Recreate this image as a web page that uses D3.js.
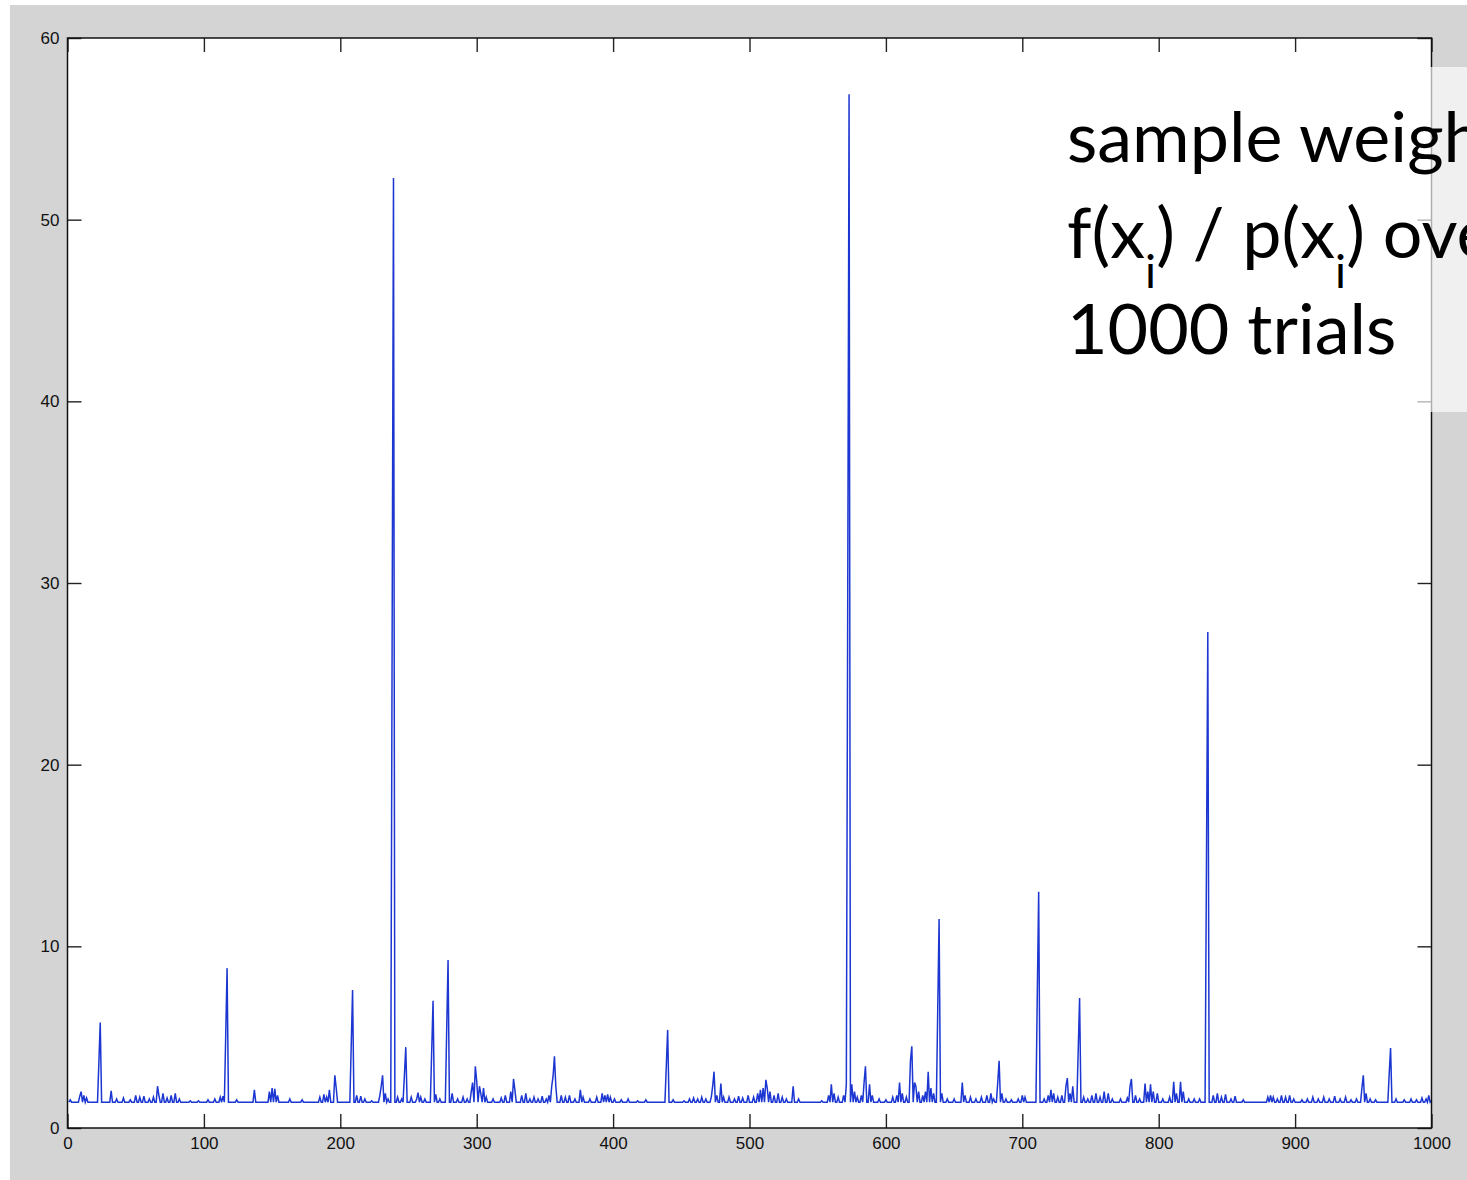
<!DOCTYPE html>
<html>
<head>
<meta charset="utf-8">
<script src="https://cdn.jsdelivr.net/npm/d3@7"></script>
<style>
    body { margin: 0; background: #fff; }
    .axis text { font-family: "Liberation Sans", Arial, sans-serif; font-size: 17px; fill: #111; }
    .axis line { stroke: #222; stroke-width: 1.4; }
    .note { font-family: Lato, "Open Sans", sans-serif; fill: #000; }
</style>
</head>
<body>
<svg id="chart"></svg>
<script>
// weights: everything not listed sits on the flat baseline
const numTrials = 1000;
const baseValue = 1.42;

const spikeIndex = [
    2, 9, 10, 12, 14, 23, 24, 32, 36, 41, 46, 50, 53, 56, 60, 63, 66, 67, 70, 73, 76, 79, 82, 90, 96, 103, 108, 112, 114, 116, 117,
    124, 137, 148, 150, 152, 154, 163, 172, 185, 188, 190, 192, 196, 197, 208, 209, 212, 215, 218, 223, 229, 230, 231, 233, 235, 238, 239,
    242, 245, 247, 248, 252, 256, 257, 259, 262, 267, 268, 270, 273, 278, 279, 282, 286, 290, 293, 296, 297, 299, 300, 302, 303, 305, 307, 312, 318, 321, 325, 327, 328,
    333, 336, 339, 342, 345, 348, 351, 353, 355, 356, 357, 358, 362, 365, 368, 372, 376, 378, 383, 388, 392, 394, 396, 398, 401, 406, 411, 418, 424, 439, 440,
    444, 452, 456, 459, 462, 465, 468, 472, 473, 474, 476, 479, 481, 485, 489, 492, 495, 499, 503, 506, 508, 510, 512, 513, 515, 518, 521, 524, 527, 532, 536, 553, 558, 560, 562, 565, 569, 571, 572, 573, 575, 577, 579,
    582, 584, 585, 588, 590, 595, 600, 605, 608, 610, 612, 615, 618, 619, 621, 622, 624, 627, 629, 631, 633, 635, 638, 639, 641, 645, 650, 656, 658, 662, 666, 670, 674, 677, 679, 682, 683, 685, 688, 692, 697, 700, 702,
    711, 712, 716, 719, 721, 723, 726, 729, 732, 733, 735, 737, 741, 742, 745, 748, 751, 754, 757, 760, 763, 766, 772, 777, 779, 780, 783, 786, 790, 792, 794, 796, 799, 803, 808, 811, 813, 816, 818, 822, 826, 830, 835, 836,
    840, 843, 846, 849, 853, 856, 862, 880, 882, 884, 887, 890, 893, 896, 899, 905, 909, 913, 917, 921, 925, 929, 933, 937, 941, 945, 949, 950, 952, 955, 959, 969, 970, 974, 980, 985, 989, 993, 996, 998, 1000
];
const spikeValue = [
    1.55, 1.75, 2.0, 1.8, 1.65, 3.6, 5.8, 2.05, 1.6, 1.65, 1.55, 1.8, 1.7, 1.75, 1.6, 1.7, 2.3, 1.8, 1.9, 1.65, 1.8, 1.9, 1.6, 1.5, 1.5, 1.55, 1.6, 1.7, 1.75, 5.1, 8.8,
    1.55, 2.1, 2.0, 2.2, 2.15, 1.8, 1.6, 1.55, 1.7, 1.85, 1.7, 2.1, 2.9, 2.2, 4.5, 7.6, 1.8, 1.75, 1.6, 1.5, 1.8, 2.3, 2.9, 1.9, 1.6, 27.0, 52.3,
    1.7, 1.6, 2.9, 4.45, 1.7, 1.6, 1.95, 1.7, 1.6, 4.2, 7.0, 1.85, 1.6, 5.4, 9.25, 1.9, 1.6, 1.7, 1.6, 2.0, 2.5, 3.4, 2.6, 2.3, 1.9, 2.2, 1.7, 1.6, 1.65, 1.8, 2.0, 2.7, 2.1,
    1.8, 1.9, 1.6, 1.7, 1.6, 1.75, 1.6, 1.8, 2.3, 2.85, 3.95, 2.3, 1.8, 1.7, 1.8, 1.6, 2.1, 1.7, 1.6, 1.7, 1.9, 1.8, 1.85, 1.7, 1.6, 1.55, 1.6, 1.5, 1.55, 3.4, 5.4,
    1.55, 1.5, 1.6, 1.65, 1.6, 1.7, 1.6, 1.7, 2.3, 3.1, 1.8, 2.45, 1.7, 1.7, 1.6, 1.75, 1.65, 1.8, 1.7, 1.9, 2.1, 2.2, 2.65, 2.2, 2.0, 1.8, 1.9, 1.7, 1.6, 2.3, 1.6, 1.5, 1.8, 2.4, 1.9, 1.7, 1.8, 2.4, 28.8, 56.9, 2.4, 2.0, 1.7,
    1.8, 2.5, 3.4, 2.4, 1.8, 1.6, 1.55, 1.7, 1.8, 2.5, 1.9, 1.7, 3.7, 4.5, 2.5, 2.3, 2.0, 1.8, 2.0, 3.1, 2.2, 1.9, 6.5, 11.5, 1.9, 1.6, 1.6, 2.5, 1.8, 1.7, 1.6, 1.7, 1.8, 1.9, 1.6, 2.5, 3.7, 1.9, 1.6, 1.55, 1.6, 1.8, 1.7,
    7.4, 13.0, 1.6, 1.8, 2.1, 1.9, 1.7, 1.8, 2.3, 2.75, 1.9, 2.3, 4.3, 7.15, 1.7, 1.6, 1.8, 1.9, 1.7, 2.0, 1.9, 1.6, 1.6, 1.65, 2.3, 2.7, 1.8, 1.6, 2.45, 2.0, 2.4, 2.0, 1.9, 1.6, 1.7, 2.55, 1.9, 2.55, 2.0, 1.6, 1.6, 1.6, 14.3, 27.3,
    1.8, 1.9, 1.7, 1.85, 1.6, 1.75, 1.55, 1.7, 1.8, 1.7, 1.6, 1.8, 1.7, 1.8, 1.6, 1.55, 1.6, 1.7, 1.6, 1.7, 1.6, 1.75, 1.6, 1.7, 1.55, 1.6, 2.2, 2.9, 1.9, 1.6, 1.55, 3.0, 4.4, 1.6, 1.55, 1.6, 1.55, 1.65, 1.6, 1.8, 1.5
];

const xTicks = [0, 100, 200, 300, 400, 500, 600, 700, 800, 900, 1000];
const yTicks = [0, 10, 20, 30, 40, 50, 60];

// the slide note over the plot, "i" parts are subscripts
const noteLines = [
    [{t: "sample weights"}],
    [{t: "f(x"}, {t: "i", sub: true}, {t: ") / p(x"}, {t: "i", sub: true}, {t: ") over"}],
    [{t: "1000 trials"}]
];

class WeightPlot {
    constructor(_config, _data){
        this.config = {
            parentElement: _config.parentElement,
            containerWidth: _config.containerWidth || 1467,
            containerHeight: _config.containerHeight || 1180,
            margin: {top: 38, right: 35.5, bottom: 52, left: 67.5}
        }
        this.data = _data;
        this.initVis();
    }

    initVis(){
        let vis = this;

        vis.width = vis.config.containerWidth - vis.config.margin.left - vis.config.margin.right;
        vis.height = vis.config.containerHeight - vis.config.margin.top - vis.config.margin.bottom;

        vis.svg = d3.select(vis.config.parentElement)
            .attr('width', vis.config.containerWidth)
            .attr('height', vis.config.containerHeight);

        // gray figure window
        vis.svg.append('rect')
            .attr('x', 10)
            .attr('y', 5)
            .attr('width', vis.config.containerWidth - 10)
            .attr('height', vis.config.containerHeight - 5)
            .attr('fill', '#d4d4d4');

        vis.chart = vis.svg.append('g')
            .attr('transform', `translate(${vis.config.margin.left}, ${vis.config.margin.top})`);

        vis.chart.append('rect')
            .attr('width', vis.width)
            .attr('height', vis.height)
            .attr('fill', '#fff');

        vis.xScale = d3.scaleLinear()
            .domain([0, numTrials])
            .range([0, vis.width]);

        vis.yScale = d3.scaleLinear()
            .domain([0, 60])
            .range([vis.height, 0]);

        vis.updateVis();
    }

    updateVis(){
        let vis = this;

        vis.line = d3.line()
            .x(d => vis.xScale(d.i))
            .y(d => vis.yScale(d.w));

        vis.chart.append('path')
            .datum(vis.data)
            .attr('fill', 'none')
            .attr('stroke', '#1c36d2')
            .attr('stroke-width', 1.5)
            .attr('stroke-linejoin', 'miter')
            .attr('d', vis.line);

        // matlab style: ticks point inwards on all four sides
        vis.xAxisGroup = vis.chart.append('g')
            .attr('class', 'axis x-axis')
            .attr('transform', 'translate(0,' + vis.height + ')')
            .call(d3.axisBottom(vis.xScale).tickValues(xTicks).tickSize(-14).tickPadding(9).tickFormat(d3.format('d')));

        vis.yAxisGroup = vis.chart.append('g')
            .attr('class', 'axis y-axis')
            .call(d3.axisLeft(vis.yScale).tickValues(yTicks).tickSize(-14).tickPadding(8));

        vis.chart.append('g')
            .attr('class', 'axis')
            .call(d3.axisTop(vis.xScale).tickValues(xTicks).tickSize(-14).tickFormat(''));

        vis.chart.append('g')
            .attr('class', 'axis')
            .attr('transform', 'translate(' + vis.width + ',0)')
            .call(d3.axisRight(vis.yScale).tickValues(yTicks).tickSize(-14).tickFormat(''));

        vis.chart.selectAll('.axis .domain').remove();

        vis.chart.append('rect')
            .attr('width', vis.width)
            .attr('height', vis.height)
            .attr('fill', 'none')
            .attr('stroke', '#111')
            .attr('stroke-width', 1.5);

        vis.renderNote();
    }

    renderNote(){
        let vis = this;

        vis.svg.append('rect')
            .attr('x', 1040)
            .attr('y', 67)
            .attr('width', 500)
            .attr('height', 345)
            .attr('fill', '#fff')
            .attr('fill-opacity', 0.66);

        noteLines.forEach((parts, k) => {
            let txt = vis.svg.append('text')
                .attr('class', 'note')
                .attr('x', 1067)
                .attr('y', 162 + k * 96)
                .attr('font-size', 70);
            let shift = 0;
            parts.forEach(p => {
                // move down for a subscript, back up for the text after it
                let target = p.sub ? 30 : 0;
                let ts = txt.append('tspan').attr('dy', target - shift).text(p.t);
                if(p.sub){ ts.attr('font-size', 46); }
                shift = target;
            });
        });
    }
}

// full series 1..1000
let lookup = new Map(spikeIndex.map((d, k) => [d, spikeValue[k]]));
let series = d3.range(1, numTrials + 1).map(i => ({i: i, w: lookup.has(i) ? lookup.get(i) : baseValue}));

let plot = new WeightPlot({parentElement: '#chart'}, series);
</script>
</body>
</html>
